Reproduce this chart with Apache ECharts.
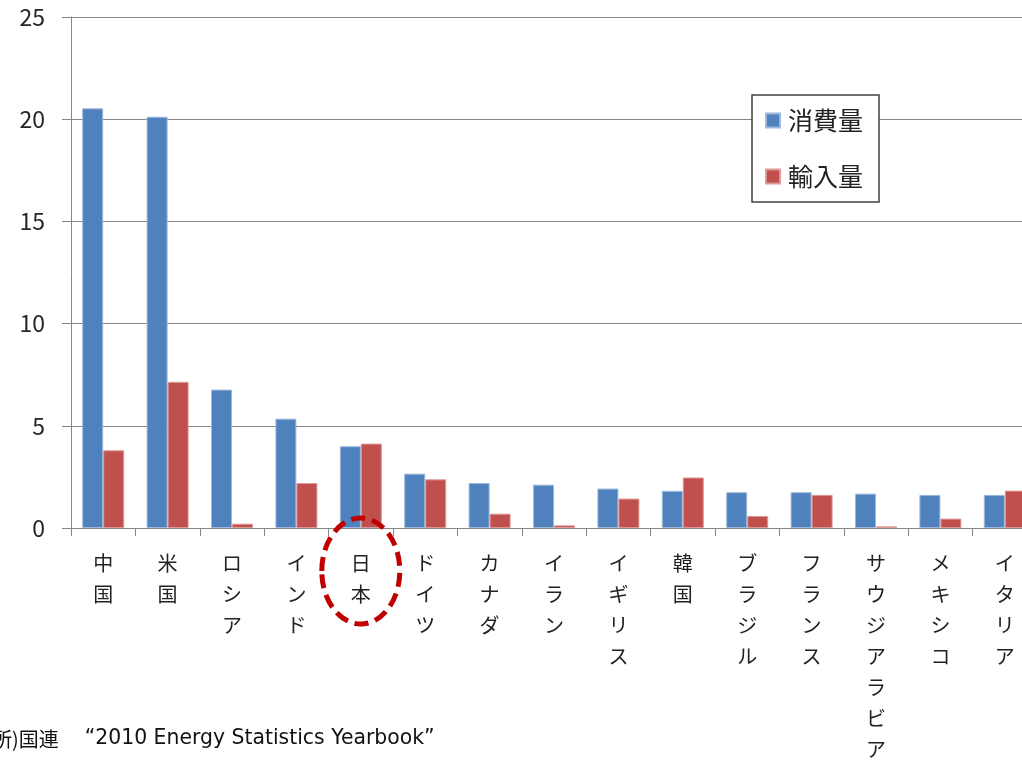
<!DOCTYPE html>
<html>
<head>
<meta charset="utf-8">
<script src="https://cdn.jsdelivr.net/npm/echarts@6/dist/echarts.min.js"></script>
<style>
  html, body { margin: 0; padding: 0; background: #fff; }
  #main { width: 1022px; height: 762px; }
</style>
</head>
<body>
<div id="main"></div>
<script>
// 国名
const countries = ['中国', '米国', 'ロシア', 'インド', '日本', 'ドイツ', 'カナダ', 'イラン',
  'イギリス', '韓国', 'ブラジル', 'フランス', 'サウジアラビア', 'メキシコ', 'イタリア']
// 消費量
const consumption = [20.53, 20.12, 6.77, 5.35, 4.0, 2.66, 2.2, 2.12, 1.93, 1.82, 1.75, 1.75, 1.68, 1.62, 1.62]
// 輸入量
const imports = [3.8, 7.15, 0.21, 2.2, 4.13, 2.38, 0.7, 0.13, 1.44, 2.47, 0.59, 1.62, 0.08, 0.46, 1.83]
// 縦軸の目盛り
const yTicks = [0, 5, 10, 15, 20, 25]

const chart = echarts.init(document.getElementById('main'))

const option = {
  animation: false,
  backgroundColor: '#fff',
  grid: {
    left: 71,
    right: -15,
    top: 17,
    bottom: 234,
    outerBoundsMode: 'none'
  },
  legend: {
    orient: 'vertical',
    left: 752,
    top: 95,
    padding: [13, 16, 13, 13],
    icon: 'rect',
    itemWidth: 14,
    itemHeight: 14,
    itemGap: 31,
    backgroundColor: '#fff',
    borderColor: '#404040',
    borderWidth: 1.5,
    textStyle: {
      fontFamily: 'Noto Sans CJK JP',
      fontSize: 25,
      color: '#222',
      padding: [0, 0, 0, 3]
    },
    data: ['消費量', '輸入量']
  },
  xAxis: {
    type: 'category',
    data: countries,
    axisLine: { lineStyle: { color: '#868686', width: 1 } },
    axisTick: { show: true, length: 8, lineStyle: { color: '#868686' } },
    axisLabel: {
      interval: 0,
      margin: 20,
      fontFamily: 'Noto Sans CJK JP',
      fontSize: 20,
      lineHeight: 31,
      color: '#222',
      verticalAlign: 'top',
      formatter: v => v.split('').join('\n')
    }
  },
  yAxis: {
    type: 'value',
    min: yTicks[0],
    max: yTicks[yTicks.length - 1],
    interval: 5,
    axisLine: { show: true, lineStyle: { color: '#868686', width: 1 } },
    axisTick: { show: true, length: 9, lineStyle: { color: '#868686' } },
    splitLine: { lineStyle: { color: '#868686', width: 1 } },
    axisLabel: {
      margin: 26,
      fontFamily: 'Noto Sans CJK JP',
      fontSize: 23,
      color: '#262626'
    }
  },
  series: [
    {
      name: '消費量',
      type: 'bar',
      data: consumption,
      barWidth: 21,
      barGap: '0%',
      itemStyle: { color: '#4F81BD', borderColor: '#9db8dc', borderWidth: 1 }
    },
    {
      name: '輸入量',
      type: 'bar',
      data: imports,
      barWidth: 21,
      itemStyle: { color: '#C0504D', borderColor: '#dd9896', borderWidth: 1 }
    }
  ]
}

chart.setOption(option)

// 日本を囲む点線の楕円と出典
const jp = chart.convertToPixel({ xAxisIndex: 0 }, '日本')
const zeroY = chart.convertToPixel({ yAxisIndex: 0 }, 0)

chart.setOption({
  graphic: [
    {
      type: 'ellipse',
      shape: { cx: jp, cy: zeroY + 43, rx: 39, ry: 53 },
      style: { fill: 'none', stroke: '#C00000', lineWidth: 5, lineDash: [14, 7] },
      z: 100
    },
    {
      type: 'text',
      left: -28,
      top: 729,
      style: {
        text: '{a|出所)国連}{b|    “2010 Energy Statistics Yearbook”}',
        rich: {
          a: { fontFamily: 'Noto Sans CJK JP', fontSize: 20, fill: '#111' },
          b: { fontFamily: 'DejaVu Sans', fontSize: 20.4, fill: '#111' }
        }
      }
    }
  ]
})
</script>
</body>
</html>
